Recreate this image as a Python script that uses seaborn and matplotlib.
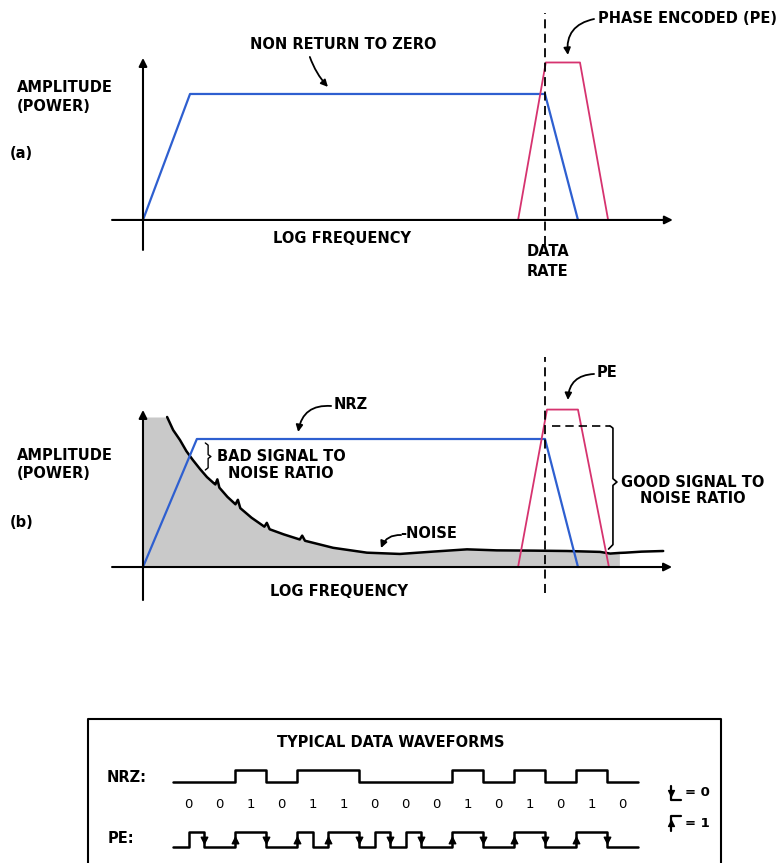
import numpy as np
import matplotlib
matplotlib.use('Agg')
import matplotlib.pyplot as plt
import seaborn as sns

# Spectrum shapes: frequency in units of the data rate, amplitude relative to NRZ level
nrz_a_freq = [0.0, 0.117, 1.0, 1.082]
nrz_a_amp = [0.0, 1.0, 1.0, 0.0]
pe_a_freq = [0.933, 1.002, 1.087, 1.157]
pe_a_amp = [0.0, 1.25, 1.25, 0.0]

nrz_b_freq = [0.0, 0.134, 1.0, 1.082]
nrz_b_amp = [0.0, 1.0, 1.0, 0.0]
pe_b_freq = [0.933, 1.005, 1.082, 1.159]
pe_b_amp = [0.0, 1.23, 1.23, 0.0]

noise_freq = [0.0, 0.060, 0.075, 0.092, 0.108, 0.124, 0.142, 0.159, 0.176, 0.180, 0.185, 0.190,
              0.210, 0.230, 0.236, 0.242, 0.270, 0.302, 0.308, 0.315, 0.350, 0.390, 0.396, 0.403,
              0.473, 0.557, 0.639, 0.720, 0.806, 0.880, 0.970, 1.055, 1.137, 1.162, 1.185,
              1.200, 1.240, 1.294]
noise_amp = [1.172, 1.172, 1.070, 0.992, 0.905, 0.836, 0.765, 0.703, 0.655, 0.645, 0.685, 0.620,
             0.548, 0.490, 0.525, 0.460, 0.385, 0.315, 0.345, 0.295, 0.255, 0.215, 0.245, 0.205,
             0.150, 0.112, 0.102, 0.120, 0.138, 0.130, 0.128, 0.125, 0.118, 0.105, 0.110,
             0.112, 0.120, 0.125]
noise_fill_end = 1.185

# Example bit stream
bits = [0, 0, 1, 0, 1, 1, 0, 0, 0, 1, 0, 1, 0, 1, 0]

BLUE = '#2e5fd0'
RED = '#d6336f'
GRAY = '#c9c9c9'

sns.set_style('white')
plt.rcParams['font.family'] = ['DejaVu Sans']
plt.rcParams['font.weight'] = 'bold'
plt.rcParams['text.color'] = 'black'
FS = 10.5

fig = plt.figure(figsize=(7.84, 8.63), dpi=100)
ax_a = fig.add_axes([0, 1 - 290 / 863, 1, 290 / 863])
ax_b = fig.add_axes([0, 1 - 620 / 863, 1, 320 / 863])
ax_w = fig.add_axes([0, 0, 1, 163 / 863])
ax_a.set_xlim(-0.3557, 1.5945)
ax_a.set_ylim(-0.556, 1.746)
ax_b.set_xlim(-0.3557, 1.5945)
ax_b.set_ylim(-0.414, 2.086)
ax_w.set_xlim(-5.581, 19.71)
ax_w.set_ylim(863, 700)
for ax in (ax_a, ax_b, ax_w):
    ax.axis('off')


def axis_arrow(ax, start, end):
    ax.annotate('', xy=end, xytext=start,
                arrowprops=dict(arrowstyle='-|>', lw=1.5, color='black',
                                mutation_scale=12, shrinkA=0, shrinkB=0))


def pointer(ax, start, end, rad):
    ax.annotate('', xy=end, xytext=start,
                arrowprops=dict(arrowstyle='-|>', lw=1.3, color='black',
                                mutation_scale=10, shrinkA=0, shrinkB=0,
                                connectionstyle='arc3,rad=%s' % rad))


# ---------- (a) ----------
axis_arrow(ax_a, (0, -0.238), (0, 1.286))
axis_arrow(ax_a, (-0.077, 0), (1.318, 0))
sns.lineplot(x=nrz_a_freq, y=nrz_a_amp, ax=ax_a, color=BLUE, lw=1.6, sort=False, estimator=None)
sns.lineplot(x=pe_a_freq, y=pe_a_amp, ax=ax_a, color=RED, lw=1.3, sort=False, estimator=None)
ax_a.plot([1.0, 1.0], [-0.198, 1.643], color='black', lw=1.3, ls=(0, (5, 3)))

ax_a.text(-0.313, 1.048, 'AMPLITUDE', fontsize=FS, va='center')
ax_a.text(-0.313, 0.897, '(POWER)', fontsize=FS, va='center')
ax_a.text(-0.331, 0.524, '(a)', fontsize=FS, va='center')
ax_a.text(0.266, 1.389, 'NON RETURN TO ZERO', fontsize=FS, va='center')
pointer(ax_a, (0.415, 1.294), (0.460, 1.056), 0.1)
ax_a.text(0.323, -0.151, 'LOG FREQUENCY', fontsize=FS, va='center')
ax_a.text(1.007, -0.254, 'DATA', fontsize=FS, va='center', ha='center')
ax_a.text(1.007, -0.413, 'RATE', fontsize=FS, va='center', ha='center')
ax_a.text(1.132, 1.603, 'PHASE ENCODED (PE)', fontsize=FS, va='center')
pointer(ax_a, (1.122, 1.595), (1.057, 1.31), 0.45)

# ---------- (b) ----------
nf = np.array(noise_freq)
na = np.array(noise_amp)
keep = nf <= noise_fill_end
ax_b.fill_between(nf[keep], na[keep], 0, color=GRAY, lw=0)
sns.lineplot(x=nf[1:], y=na[1:], ax=ax_b, color='black', lw=1.8, sort=False, estimator=None)
axis_arrow(ax_b, (0, -0.258), (0, 1.227))
axis_arrow(ax_b, (-0.077, 0), (1.316, 0))
sns.lineplot(x=nrz_b_freq, y=nrz_b_amp, ax=ax_b, color=BLUE, lw=1.6, sort=False, estimator=None)
sns.lineplot(x=pe_b_freq, y=pe_b_amp, ax=ax_b, color=RED, lw=1.3, sort=False, estimator=None)
ax_b.plot([1.0, 1.0], [-0.203, 1.641], color='black', lw=1.3, ls=(0, (5, 3)))
ax_b.plot([1.017, 1.162], [1.102, 1.102], color='black', lw=1.2, ls=(0, (5, 3)))

# braces
ax_b.plot([1.162, 1.169, 1.169, 1.179, 1.169, 1.169, 1.158],
          [1.102, 1.085, 0.690, 0.664, 0.638, 0.175, 0.140], color='black', lw=1.2)
ax_b.plot([0.155, 0.162, 0.162, 0.169, 0.162, 0.162, 0.155],
          [0.969, 0.952, 0.878, 0.863, 0.848, 0.775, 0.758], color='black', lw=1.0)

ax_b.text(-0.313, 0.875, 'AMPLITUDE', fontsize=FS, va='center')
ax_b.text(-0.313, 0.727, '(POWER)', fontsize=FS, va='center')
ax_b.text(-0.331, 0.344, '(b)', fontsize=FS, va='center')
ax_b.text(0.473, 1.266, 'NRZ', fontsize=FS, va='center')
pointer(ax_b, (0.468, 1.258), (0.386, 1.055), 0.45)
ax_b.text(0.343, 0.867, 'BAD SIGNAL TO', fontsize=FS, va='center', ha='center')
ax_b.text(0.343, 0.734, 'NOISE RATIO', fontsize=FS, va='center', ha='center')
ax_b.text(1.129, 1.516, 'PE', fontsize=FS, va='center')
pointer(ax_b, (1.122, 1.508), (1.057, 1.305), 0.45)
ax_b.text(1.367, 0.664, 'GOOD SIGNAL TO', fontsize=FS, va='center', ha='center')
ax_b.text(1.367, 0.539, 'NOISE RATIO', fontsize=FS, va='center', ha='center')
ax_b.text(0.640, 0.258, '-NOISE', fontsize=FS, va='center')
pointer(ax_b, (0.642, 0.25), (0.592, 0.148), 0.35)
ax_b.text(0.316, -0.195, 'LOG FREQUENCY', fontsize=FS, va='center')

# ---------- waveforms ----------
NRZ_LO, NRZ_HI = 782, 770
PE_HI, PE_LO = 832, 847
BIT_ROW = 804

# box
ax_w.plot([-2.742, -2.742, 17.677, 17.677], [870, 719, 719, 870], color='black', lw=1.5, clip_on=False)
ax_w.text(7.03, 742, 'TYPICAL DATA WAVEFORMS', fontsize=FS, ha='center', va='center')
ax_w.text(-2.129, 777, 'NRZ:', fontsize=FS, va='center')
ax_w.text(-2.097, 838, 'PE:', fontsize=FS, va='center')

# NRZ: level held for each bit
nrz_x = np.arange(len(bits) + 1)
nrz_y = [NRZ_HI if b else NRZ_LO for b in bits] + [NRZ_HI if bits[-1] else NRZ_LO]
ax_w.step(nrz_x, nrz_y, where='post', color='black', lw=1.8)

# PE (Manchester): transition at the centre of each bit
pe_x = [0.0]
pe_y = [PE_HI if bits[0] else PE_LO]
for k in range(1, len(bits)):
    before = PE_LO if bits[k] else PE_HI
    after = PE_HI if bits[k] else PE_LO
    if pe_y[-1] != before:
        pe_x += [k - 0.5, k - 0.5]
        pe_y += [pe_y[-1], before]
    pe_x += [k, k]
    pe_y += [before, after]
pe_x.append(len(bits))
pe_y.append(pe_y[-1])
ax_w.plot(pe_x, pe_y, color='black', lw=1.8)
up = [k for k in range(1, len(bits)) if bits[k] == 1]
dn = [k for k in range(1, len(bits)) if bits[k] == 0]
ax_w.scatter(up, [(PE_HI + PE_LO) / 2] * len(up), marker='^', s=22, color='black', zorder=3)
ax_w.scatter(dn, [(PE_HI + PE_LO) / 2] * len(dn), marker='v', s=22, color='black', zorder=3)

for k, b in enumerate(bits):
    ax_w.text(k + 0.5, BIT_ROW, str(b), fontsize=9.5, ha='center', va='center', fontweight='normal')

# legend glyphs
ax_w.plot([16.06, 16.06, 16.39], [786, 800, 800], color='black', lw=1.6)
ax_w.scatter([16.06], [793], marker='v', s=18, color='black')
ax_w.text(16.52, 792, '= 0', fontsize=9.5, va='center')
ax_w.plot([16.39, 16.06, 16.06], [816, 816, 831], color='black', lw=1.6)
ax_w.scatter([16.06], [823], marker='^', s=18, color='black')
ax_w.text(16.52, 823, '= 1', fontsize=9.5, va='center')

fig.savefig('out.png', dpi=100)
